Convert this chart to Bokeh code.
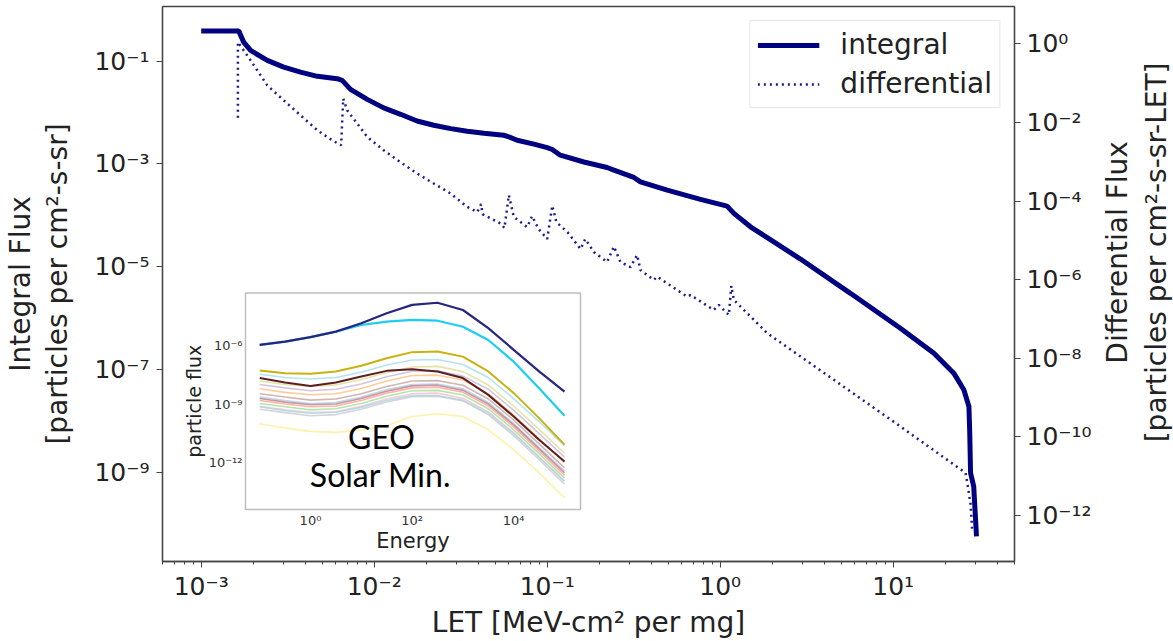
import numpy as np
from bokeh.plotting import figure
from bokeh.layouts import row
from bokeh.models import (Range1d, LogScale, LogAxis, FixedTicker,
                          CustomJSTickFormatter, Legend, LegendItem)
from bokeh.embed import file_html
from bokeh.resources import INLINE
from bokeh.core.properties import value

# ---------------- data ----------------
integral_let = [1.0e-3, 1.65e-3, 1.76e-3, 1.93e-3, 2.41e-3, 3.00e-3, 3.75e-3, 4.69e-3,
                6.11e-3, 6.53e-3, 7.30e-3, 9.12e-3, 1.135e-2, 1.42e-2, 1.77e-2, 2.21e-2,
                2.77e-2, 3.45e-2, 4.31e-2, 5.61e-2, 6.00e-2, 6.71e-2, 8.38e-2, 0.100,
                0.107, 0.119, 0.163, 0.222, 0.243, 0.317, 0.346, 0.494, 0.769, 1.096,
                1.20, 1.496, 2.91, 5.66, 11.0, 17.2, 22.4, 25.6, 27.4, 27.7, 28.0, 29.2, 30.3]
integral_flux = [0.383, 0.383, 0.234, 0.161, 0.103, 7.64e-2, 6.11e-2, 5.05e-2, 4.55e-2,
                 4.22e-2, 2.82e-2, 1.80e-2, 1.23e-2, 9.23e-3, 6.84e-3, 5.64e-3, 4.86e-3,
                 4.32e-3, 3.94e-3, 3.61e-3, 3.37e-3, 2.88e-3, 2.42e-3, 2.08e-3, 1.91e-3,
                 1.48e-3, 1.09e-3, 8.51e-4, 7.55e-4, 5.45e-4, 4.47e-4, 3.08e-4, 2.04e-4,
                 1.51e-4, 1.09e-4, 5.98e-5, 1.41e-5, 3.04e-6, 6.37e-7, 2.08e-7, 8.51e-8,
                 4.04e-8, 1.91e-8, 5.82e-9, 9.72e-10, 5.35e-10, 5.71e-11]

diff_let = [1.63e-3, 1.63e-3, 1.93e-3, 2.41e-3, 3.00e-3, 3.75e-3, 4.69e-3, 5.71e-3, 6.44e-3,
            6.62e-3, 6.98e-3, 9.12e-3, 1.135e-2, 1.42e-2, 1.77e-2, 2.21e-2, 2.76e-2, 3.45e-2,
            3.94e-2, 4.15e-2, 4.23e-2, 5.37e-2, 5.66e-2, 6.00e-2, 6.41e-2, 7.66e-2, 8.18e-2,
            8.93e-2, 0.100, 0.107, 0.113, 0.131, 0.156, 0.166, 0.186, 0.222, 0.243, 0.265,
            0.303, 0.331, 0.346, 0.413, 0.432, 0.644, 0.673, 0.918, 0.982, 1.122, 1.159,
            1.20, 1.87, 4.54, 11.0, 26.2, 27.2, 28.0, 28.6]
diff_flux = [1.32e-2, 1.10, 0.377, 8.73e-2, 3.63e-2, 1.51e-2, 6.30e-3, 3.51e-3, 2.62e-3,
             4.02e-2, 2.03e-2, 4.26e-3, 1.95e-3, 9.70e-4, 5.01e-4, 2.79e-4, 1.56e-4, 7.11e-5,
             5.21e-5, 8.32e-5, 4.63e-5, 2.69e-5, 2.05e-5, 1.41e-4, 3.96e-5, 2.17e-5, 4.13e-5,
             1.93e-5, 1.08e-5, 7.62e-5, 2.90e-5, 1.62e-5, 6.00e-6, 1.08e-5, 5.04e-6, 2.81e-6,
             6.93e-6, 2.81e-6, 2.09e-6, 4.22e-6, 1.76e-6, 9.79e-7, 1.19e-6, 3.69e-7, 4.07e-7,
             1.69e-7, 2.27e-7, 1.26e-7, 6.89e-7, 3.04e-7, 4.35e-8, 2.83e-9, 1.85e-10,
             1.21e-11, 4.57e-12, 1.91e-12, 4.41e-13]

x_ticks = [1e-3, 1e-2, 1e-1, 1e0, 1e1]
left_ticks = [1e-1, 1e-3, 1e-5, 1e-7, 1e-9]
right_ticks = [1e0, 1e-2, 1e-4, 1e-6, 1e-8, 1e-10, 1e-12]

left_label = "Integral Flux\n[particles per cm\u00b2-s-sr]"
right_label_lines = ["Differential Flux", "[particles per cm\u00b2-s-sr-LET]"]
x_label = "LET [MeV-cm\u00b2 per mg]"

# inset: GEO solar-minimum particle spectra (log10 of particle flux)
inset_energy = [0.1, 0.316, 1.0, 3.16, 10.0, 31.6, 100.0, 316.0, 1000.0, 3160.0, 1.0e4, 3.16e4, 1.0e5]
inset_navy   = [-5.95, -5.78, -5.55, -5.27, -4.84, -4.33, -3.90, -3.79, -4.16, -5.09, -6.20, -7.31, -8.34]
inset_cyan   = [-5.95, -5.78, -5.55, -5.27, -4.93, -4.76, -4.67, -4.71, -5.02, -5.70, -6.81, -8.17, -9.58]
inset_gold   = [-7.26, -7.40, -7.43, -7.31, -7.02, -6.63, -6.32, -6.29, -6.55, -7.31, -8.42, -9.70, -11.06]
inset_maroon = [-7.65, -7.88, -8.05, -7.88, -7.57, -7.28, -7.20, -7.31, -7.65, -8.51, -9.62, -10.81, -11.92]
inset_pale   = [-9.99, -10.21, -10.38, -10.43, -10.33, -10.09, -9.62, -9.48, -9.62, -10.30, -11.32, -12.51, -13.79]
inset_faint = [
    [-7.45, -7.62, -7.70, -7.62, -7.35, -6.98, -6.72, -6.70, -6.95, -7.62, -8.70, -9.88, -11.10],
    [-7.80, -7.98, -8.08, -8.00, -7.72, -7.36, -7.08, -7.05, -7.32, -8.00, -9.08, -10.28, -11.50],
    [-7.98, -8.15, -8.30, -8.22, -7.95, -7.58, -7.30, -7.28, -7.55, -8.22, -9.30, -10.50, -11.70],
    [-8.20, -8.38, -8.50, -8.45, -8.18, -7.80, -7.52, -7.50, -7.75, -8.45, -9.55, -10.75, -11.98],
    [-8.45, -8.62, -8.78, -8.72, -8.45, -8.08, -7.80, -7.78, -8.02, -8.72, -9.80, -11.02, -12.25],
    [-8.62, -8.80, -8.95, -8.90, -8.62, -8.25, -7.98, -7.95, -8.20, -8.90, -9.98, -11.20, -12.42],
    [-8.70, -8.88, -9.02, -8.98, -8.70, -8.32, -8.05, -8.02, -8.28, -8.98, -10.05, -11.28, -12.50],
    [-8.80, -8.98, -9.12, -9.08, -8.80, -8.42, -8.15, -8.12, -8.38, -9.08, -10.15, -11.38, -12.62],
    [-8.95, -9.12, -9.28, -9.22, -8.95, -8.58, -8.30, -8.28, -8.52, -9.22, -10.30, -11.52, -12.78],
    [-9.10, -9.28, -9.42, -9.38, -9.10, -8.72, -8.45, -8.42, -8.68, -9.38, -10.45, -11.68, -12.92],
    [-9.12, -9.32, -9.45, -9.40, -9.15, -8.80, -8.55, -8.55, -8.78, -9.45, -10.50, -11.72, -12.95],
    [-9.25, -9.42, -9.58, -9.52, -9.25, -8.88, -8.60, -8.58, -8.82, -9.52, -10.60, -11.82, -13.08],
]
faint_colors = ["#9edae5", "#dbdb8d", "#c5b0d5", "#ffbb78", "#c49c94", "#aec7e8",
                "#b07a7a", "#ff9896", "#98df8a", "#f7b6d2", "#9edae5", "#c7c7c7"]
inset_x_ticks = [1.0, 100.0, 1.0e4]
inset_x_labels = ["10\u2070", "10\u00b2", "10\u2074"]
inset_y_ticks = [1e-6, 1e-9, 1e-12]
inset_y_labels = ["10\u207b\u2076", "10\u207b\u2079", "10\u207b\u00b9\u00b2"]

# ---------------- layout (page pixels; Bokeh's page has no body margin) ----------------
FONT = "DejaVu Sans"
W, H = 1173, 641
LAB_W = 72                                    # strip at the right holding the right title
MAIN_W = W - LAB_W
FL, FR, FT, FB = 162, 1014, 6, 562           # frame edges on the page
# calibration of the axes in the reference (pixel of a decade, px per decade)
X_E3_PX, X_DEC = 200.7, 173.0                 # 1e-3 on LET axis
L_E1_PX, L_DEC = 60.7, 51.5                   # 1e-1 on left axis
R_E0_PX, R_DEC = 43.3, 39.39                  # 1e0 on right axis
IX_E0_PX, IX_DEC = 310.0, 50.8                # inset: energy 1
IY_E6_PX, IY_DEC = 346.0, 19.55               # inset: flux 1e-6
INSET_BOX = (245, 580, 293, 510)              # left, right, top, bottom (page px)
RIGHT_LABEL_X = (1117, 1156)                  # centres of the two right-title lines
YLABEL_CY = 284


def mainx(px):
    return 10 ** (-3 + (px - X_E3_PX) / X_DEC)


def mainy(py):
    return 10 ** (-1 - (py - L_E1_PX) / L_DEC)


def inx(px):
    return 10 ** ((px - IX_E0_PX) / IX_DEC)


def iny(py):
    return 10 ** (-6 - (py - IY_E6_PX) / IY_DEC)


p = figure(width=MAIN_W, height=H, output_backend="svg", toolbar_location=None,
           x_axis_type="log", y_axis_type="log",
           x_range=Range1d(mainx(FL), mainx(FR)), y_range=Range1d(mainy(FB), mainy(FT)),
           min_border_left=FL, min_border_right=MAIN_W - FR,
           min_border_top=FT, min_border_bottom=H - FB)
p.extra_y_ranges = {
    "diff": Range1d(10 ** (-(FB - R_E0_PX) / R_DEC), 10 ** ((R_E0_PX - FT) / R_DEC)),
    "iny": Range1d(iny(FB), iny(FT)),
}
p.extra_y_scales = {"diff": LogScale(), "iny": LogScale()}
p.extra_x_ranges = {"inx": Range1d(inx(FL), inx(FR))}
p.extra_x_scales = {"inx": LogScale()}

p.xgrid.visible = False
p.ygrid.visible = False
p.outline_line_color = "#444444"
p.outline_line_width = 1.3
p.background_fill_color = "white"
p.border_fill_color = "white"

SUP_JS = """
const m = {"-":"\u207b","0":"\u2070","1":"\u00b9","2":"\u00b2","3":"\u00b3","4":"\u2074",
           "5":"\u2075","6":"\u2076","7":"\u2077","8":"\u2078","9":"\u2079"};
const e = Math.round(Math.log10(tick));
return "10" + String(e).split("").map(c => m[c]).join("");
"""


def style_axis(ax):
    ax.axis_line_color = "#444444"
    ax.axis_line_width = 1.3
    ax.major_tick_line_color = "#444444"
    ax.minor_tick_line_color = "#444444"
    ax.major_tick_out = 6
    ax.major_tick_in = 0
    ax.minor_tick_out = 3
    ax.minor_tick_in = 0
    ax.major_label_standoff = 5
    ax.axis_label_standoff = 4
    ax.major_label_text_font = FONT
    ax.major_label_text_font_size = "25px"
    ax.major_label_text_color = "#222222"
    ax.axis_label_text_font = FONT
    ax.axis_label_text_font_size = "28px"
    ax.axis_label_text_font_style = "normal"
    ax.axis_label_text_color = "#222222"
    ax.formatter = CustomJSTickFormatter(code=SUP_JS)


xax = p.below[0]
style_axis(xax)
xax.ticker = FixedTicker(ticks=x_ticks,
                         minor_ticks=[k * 10.0 ** e for e in range(-4, 2) for k in range(2, 10)])
xax.axis_label = x_label
xax.major_label_standoff = 4
xax.axis_label_standoff = 2

lax = p.left[0]
style_axis(lax)
lax.ticker = FixedTicker(ticks=left_ticks, minor_ticks=[])
lax.major_label_standoff = 7
lax.axis_label = left_label
lax.axis_label_standoff = 17
lax.axis_label_text_line_height = 1.15

rax = LogAxis(y_range_name="diff", ticker=FixedTicker(ticks=right_ticks, minor_ticks=[]))
style_axis(rax)
rax.major_label_standoff = 6
p.add_layout(rax, "right")

# ---------------- main curves ----------------
r_int = p.line(integral_let, integral_flux, line_color="#000080", line_width=5)
r_diff = p.line(diff_let, diff_flux, y_range_name="diff", line_color="#1a1a8c",
                line_width=2.5, line_dash="2 4")

legend = Legend(items=[LegendItem(label="integral", renderers=[r_int]),
                       LegendItem(label="differential", renderers=[r_diff])],
                location="top_right", margin=14, padding=7, spacing=6,
                glyph_width=62, glyph_height=32, label_standoff=21, label_height=32,
                label_text_font=FONT, label_text_font_size="28px", label_text_color="#222222",
                border_line_color="#d0d0d0", border_line_width=1.2,
                background_fill_color="white", background_fill_alpha=0.9)
p.add_layout(legend)

# ---------------- inset ----------------
bl, br, bt, bb = INSET_BOX
p.quad(left=[inx(bl)], right=[inx(br)], top=[iny(bt)], bottom=[iny(bb)],
       x_range_name="inx", y_range_name="iny",
       fill_color="white", line_color="#bdbdbd", line_width=1.5)

for vals, col in zip(inset_faint, faint_colors):
    p.line(inset_energy, [10 ** v for v in vals], x_range_name="inx", y_range_name="iny",
           line_color=col, line_width=1.6, line_alpha=0.75)
p.line(inset_energy, [10 ** v for v in inset_pale], x_range_name="inx", y_range_name="iny",
       line_color="#fff1a8", line_width=1.6)
p.line(inset_energy, [10 ** v for v in inset_maroon], x_range_name="inx", y_range_name="iny",
       line_color="#5c1f1f", line_width=2)
p.line(inset_energy, [10 ** v for v in inset_gold], x_range_name="inx", y_range_name="iny",
       line_color="#c8b210", line_width=2)
p.line(inset_energy, [10 ** v for v in inset_cyan], x_range_name="inx", y_range_name="iny",
       line_color="#1ccdf2", line_width=2.2)
p.line(inset_energy, [10 ** v for v in inset_navy], x_range_name="inx", y_range_name="iny",
       line_color="#26267e", line_width=2.2)

# inset tick labels and axis titles
p.text(x=inset_x_ticks, y=[iny(bb)] * 3, text=inset_x_labels, x_range_name="inx",
       y_range_name="iny", text_align="center", text_baseline="top", y_offset=3,
       text_font=value(FONT), text_font_size="13px", text_color="#333333")
p.text(x=[inx(bl)] * 3, y=inset_y_ticks, text=inset_y_labels, x_range_name="inx",
       y_range_name="iny", text_align="right", text_baseline="middle", x_offset=-3,
       text_font=value(FONT), text_font_size="13px", text_color="#333333")
p.text(x=[inx((bl + br) / 2)], y=[iny(bb)], text=["Energy"], x_range_name="inx",
       y_range_name="iny", text_align="center", text_baseline="top", y_offset=19,
       text_font=value(FONT), text_font_size="21px", text_color="#222222")
p.text(x=[inx(bl)], y=[iny((bt + bb) / 2)], text=["particle flux"], x_range_name="inx",
       y_range_name="iny", text_align="center", text_baseline="middle", x_offset=-52,
       angle=np.pi / 2, text_font=value(FONT), text_font_size="19px", text_color="#222222")
p.text(x=[inx(381), inx(380)], y=[iny(437), iny(475)], text=["GEO", "Solar Min."],
       x_range_name="inx", y_range_name="iny", text_align="center", text_baseline="middle",
       text_font=value("Lato"), text_font_size="32px", text_color="black")

# ---------------- right title strip (page pixel coordinates) ----------------
lab = figure(width=LAB_W, height=H, output_backend="svg", toolbar_location=None,
             x_range=Range1d(MAIN_W, W), y_range=Range1d(H, 0),
             x_axis_location=None, y_axis_location=None,
             min_border_left=0, min_border_right=0, min_border_top=0, min_border_bottom=0)
lab.xgrid.visible = False
lab.ygrid.visible = False
lab.outline_line_color = None
lab.background_fill_color = "white"
lab.border_fill_color = "white"
lab.text(x=list(RIGHT_LABEL_X), y=[YLABEL_CY] * 2, text=right_label_lines, angle=np.pi / 2,
         text_align="center", text_baseline="middle", text_font=value(FONT),
         text_font_size="28px", text_color="#222222")

page = row(p, lab, spacing=0)
open("out.html", "w").write(file_html(page, INLINE))
